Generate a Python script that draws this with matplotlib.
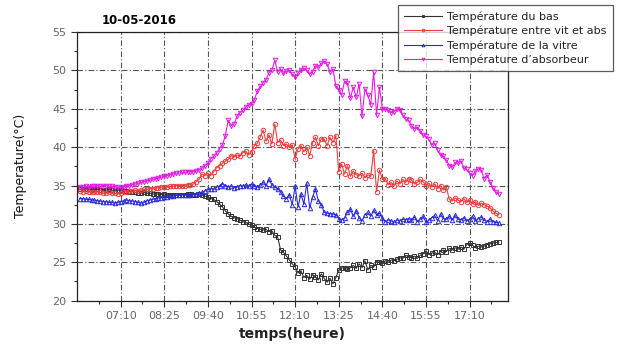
import numpy as np
import matplotlib
matplotlib.use("Agg")
import matplotlib.pyplot as plt
from matplotlib.ticker import FixedLocator, FuncFormatter

# Sampling: every 5 minutes from 06:00 to 18:00 (minutes since midnight)
t_start, t_step = 360, 5

t_bas = [
    34.5, 34.5, 34.6, 34.5, 34.4, 34.5, 34.5, 34.4, 34.3, 34.4, 34.5, 34.4,
    34.3, 34.4, 34.4, 34.3, 34.3, 34.2, 34.2, 34.1, 34.0, 34.0, 34.1, 34.0,
    34.0, 33.9, 33.9, 33.9, 33.8, 33.9, 33.8, 33.8, 33.8, 33.7, 33.8, 33.8,
    33.8, 33.9, 33.9, 33.8, 33.8, 33.9, 33.7, 33.6, 33.5, 33.3, 33.2, 32.9,
    32.6, 32.2, 31.7, 31.3, 31.0, 30.8, 30.7, 30.5, 30.3, 30.2, 30.0, 29.8,
    29.6, 29.4, 29.3, 29.2, 29.3, 29.0, 29.1, 28.5, 28.3, 26.6, 26.3, 25.8,
    25.3, 24.8, 24.4, 23.6, 23.9, 23.0, 23.3, 22.8, 23.4, 23.1, 22.7, 23.5,
    22.9, 22.4, 22.9, 22.2, 23.0, 24.0, 24.3, 24.2, 24.1, 24.3, 24.6, 24.2,
    24.8, 24.3, 25.2, 24.0, 24.6, 24.4, 25.1, 25.0, 24.9, 25.2, 25.0, 25.3,
    25.2, 25.4, 25.6, 25.5, 25.9, 25.7, 25.6, 25.8, 25.5, 25.9, 26.1, 26.5,
    26.0, 26.2, 26.3, 26.0, 26.4, 26.6, 26.4, 26.8, 26.6, 26.9, 26.7, 27.0,
    26.7, 27.3, 27.5, 27.2, 26.9, 27.1, 27.0, 27.1, 27.3, 27.4, 27.5, 27.6,
    27.6,
]

t_entre = [
    34.3, 34.2, 34.3, 34.2, 34.2, 34.1, 34.2, 34.1, 34.0, 34.0, 34.1, 34.0,
    34.0, 33.9, 34.0, 34.1, 34.2, 34.3, 34.3, 34.4, 34.3, 34.4, 34.5, 34.5,
    34.6, 34.6, 34.7, 34.7, 34.8, 34.8, 34.8, 34.9, 34.9, 35.0, 35.0, 35.0,
    35.0, 35.1, 35.1, 35.2, 35.5, 35.8, 36.5, 36.3, 36.6, 36.3, 36.8, 37.3,
    37.6, 37.9, 38.2, 38.4, 38.9, 38.7, 39.0, 38.8, 39.3, 39.5, 39.0, 39.4,
    40.2, 40.5, 41.3, 42.2, 40.8, 41.6, 40.4, 43.0, 40.6, 40.9, 40.2, 40.4,
    40.0, 40.3, 38.5, 39.8, 40.2, 39.4, 40.0, 38.9, 40.6, 41.3, 40.2, 41.1,
    41.0, 40.2, 41.3, 40.6, 41.5, 36.8, 37.8, 36.5, 37.6, 36.2, 36.9, 36.4,
    36.3, 36.6, 36.0, 36.4, 36.2, 39.5, 34.2, 37.0, 35.8, 35.9, 35.1, 35.4,
    35.0, 35.6, 35.2, 35.8, 35.4, 35.9, 35.7, 35.2, 35.4, 35.8, 35.5, 35.0,
    35.3, 34.8, 35.2, 34.6, 35.0, 34.4, 34.8, 33.2, 33.0, 33.4, 33.1, 32.9,
    33.3, 32.8, 33.1, 32.6, 32.9, 32.4, 32.7, 32.5, 32.3, 32.1, 31.7, 31.4,
    31.2,
]

t_vitre = [
    33.3, 33.3, 33.2, 33.2, 33.1, 33.1, 33.0, 33.0, 32.9, 32.9, 32.8, 32.8,
    32.7, 32.8, 32.9, 33.0, 33.1, 33.0, 33.0, 32.9, 32.8, 32.7, 32.8, 33.0,
    33.1, 33.2, 33.3, 33.4, 33.4, 33.5, 33.5, 33.6, 33.6, 33.7, 33.7, 33.8,
    33.7, 33.8, 33.8, 33.9, 33.9, 34.0, 34.1, 34.3, 34.5, 34.6, 34.5, 34.8,
    34.9, 35.2, 35.0, 34.8, 34.9, 34.7, 34.8, 35.0, 34.9, 35.1, 34.9, 35.2,
    35.0, 34.8, 35.1, 35.4, 35.0, 35.8, 35.1, 34.8, 34.6, 34.2, 33.6, 33.3,
    33.8, 32.5, 34.9, 32.2, 33.9, 32.6, 35.3, 32.1, 33.5, 34.5, 33.0, 32.5,
    31.5, 31.4, 31.3, 31.3, 31.2, 30.7, 30.5, 30.8, 31.5, 31.9, 31.0, 31.7,
    30.8, 30.4, 31.2, 31.5, 31.0, 31.8, 31.2, 31.4, 30.8, 30.3, 30.5, 30.4,
    30.2, 30.5, 30.4, 30.6, 30.5, 30.7, 30.5, 30.9, 30.3, 30.6, 31.0, 30.2,
    30.5, 30.8, 31.1, 30.4, 31.3, 30.7, 30.6, 31.0, 30.5, 31.1, 30.6, 30.5,
    30.8, 30.4, 30.6, 31.0, 30.4, 30.7, 30.9, 30.5, 30.3, 30.6, 30.3, 30.2,
    30.1,
]

t_absorbeur = [
    34.8, 34.8, 34.9, 34.8, 34.9, 34.9, 35.0, 34.9, 35.0, 35.0, 34.9, 34.9,
    34.8, 34.8, 34.7, 34.8, 34.9, 35.0, 35.1, 35.2, 35.3, 35.4, 35.5, 35.6,
    35.7, 35.8, 35.9, 36.0, 36.1, 36.2, 36.3, 36.4, 36.5, 36.6, 36.6, 36.7,
    36.7, 36.8, 36.8, 36.8, 36.9, 37.0, 37.3, 37.6, 37.9, 38.5, 38.8, 39.2,
    39.8, 40.3, 41.5, 43.5, 42.8, 43.0, 44.0, 44.5, 44.8, 45.2, 45.5, 45.6,
    46.2, 47.3, 47.9, 48.4, 48.8, 49.7, 50.0, 51.3, 49.8, 50.2, 49.6, 49.9,
    50.0, 49.5, 49.2, 49.6, 50.1, 50.3, 50.0, 49.5, 49.8, 50.6, 50.4, 50.9,
    51.2, 50.8, 49.8, 50.2, 48.0, 47.4, 46.8, 48.6, 48.3, 46.4, 47.8, 46.5,
    48.2, 44.0, 47.6, 46.8, 45.5, 49.8, 44.2, 47.8, 45.0, 45.0, 44.8, 44.5,
    44.6, 45.0, 44.9, 44.2, 43.6, 43.5, 42.8, 42.4, 42.6, 42.1, 41.6, 41.4,
    41.0, 40.3, 40.5, 39.6, 39.0, 38.8, 38.3, 37.6, 37.4, 38.0, 37.9, 38.2,
    37.3, 37.1, 36.6, 36.3, 36.9, 37.2, 37.0, 35.9, 36.4, 35.5, 34.7, 34.2,
    33.9,
]

labels = ["Température du bas", "Température entre vit et abs",
          "Température de la vitre", "Température d\u2019absorbeur"]
colors = ["#333333", "#f03c3c", "#2b2bdc", "#e619e6"]
markers = ["s", "o", "^", "v"]
series = [t_bas, t_entre, t_vitre, t_absorbeur]

x_ticks = ["07:10", "08:25", "09:40", "10:55", "12:10", "13:25", "14:40", "15:55", "17:10"]


def to_min(s):
    h, m = s.split(":")
    return int(h) * 60 + int(m)


major = [to_min(s) for s in x_ticks]
minor = [m - 37.5 for m in major] + [major[-1] + 37.5]
t = t_start + t_step * np.arange(len(t_bas))

fig = plt.figure(figsize=(6.19, 3.44), dpi=100)
ax = fig.add_axes([0.1244, 0.126, 0.6963, 0.781])

for y, c, mk, lab in zip(series, colors, markers, labels):
    ax.plot(t, y, color=c, lw=0.8, marker=mk, ms=3.2, mfc="none",
            mec=c, mew=0.7, label=lab)

ax.set_xlim(355, 1096)
ax.set_ylim(20, 55)
ax.xaxis.set_major_locator(FixedLocator(major))
ax.xaxis.set_minor_locator(FixedLocator(minor))
ax.xaxis.set_major_formatter(FuncFormatter(lambda v, p: f"{int(v)//60:02d}:{int(v)%60:02d}"))
ax.set_yticks(np.arange(20, 56, 5))
ax.set_yticks(np.arange(22.5, 55, 5), minor=True)

ax.grid(True, which="major", color="#555555", lw=0.8, ls=(0, (5, 2, 1, 2)))
ax.tick_params(axis="both", which="major", direction="out", length=4, width=0.8,
               labelsize=8, labelcolor="#666666", color="#333333")
ax.tick_params(axis="both", which="minor", direction="out", length=2.5, width=0.8,
               color="#333333")
for s in ax.spines.values():
    s.set_color("#222222")
    s.set_linewidth(0.9)

ax.set_xlabel("temps(heure)", fontsize=10, fontweight="bold", color="#222222", labelpad=4)
ax.set_ylabel("Temperature(°C)", fontsize=9, color="#111111", labelpad=18)
fig.text(0.165, 0.94, "10-05-2016", fontsize=8.5, fontweight="bold", ha="left", va="center")

leg = fig.legend(loc="upper left", bbox_to_anchor=(0.643, 0.985), borderaxespad=0,
                 fontsize=8, frameon=True, fancybox=False, edgecolor="#333333",
                 handlelength=3.4, handletextpad=0.5, borderpad=0.55,
                 labelspacing=0.35, markerscale=0.6)
leg.get_frame().set_linewidth(0.9)
for txt in leg.get_texts():
    txt.set_color("#222222")

fig.savefig("out.png", dpi=100)
